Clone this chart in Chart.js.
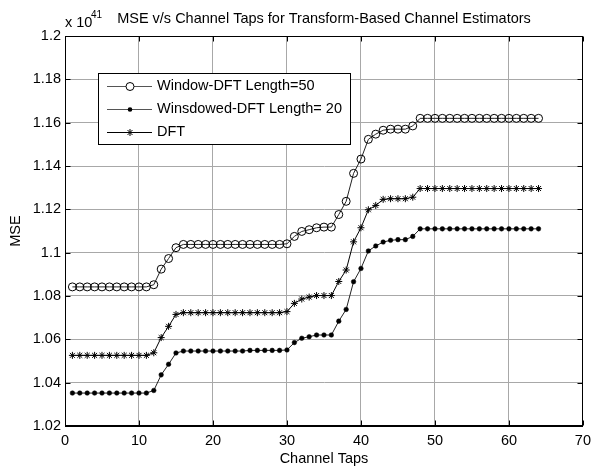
<!DOCTYPE html>
<html><head><meta charset="utf-8">
<script src="https://cdn.jsdelivr.net/npm/chart.js@4.4.1/dist/chart.umd.min.js"></script>
<style>html,body{margin:0;padding:0;background:#fff}canvas{display:block}</style>
</head><body>
<canvas id="c" width="597" height="468"></canvas>
<script>
const channelTaps = [1,2,3,4,5,6,7,8,9,10,11,12,13,14,15,16,17,18,19,20,21,22,23,24,25,26,27,28,29,30,31,32,33,34,35,36,37,38,39,40,41,42,43,44,45,46,47,48,49,50,51,52,53,54,55,56,57,58,59,60,61,62,63,64];

const windowDFT50 = [
  1.0842,1.0842,1.0842,1.0842,1.0842,1.0842,1.0842,1.0842,1.0842,1.0842,1.0842,
  1.0852,1.0924,1.0973,1.1023,
  1.1038,1.1038,1.1038,1.1038,1.1038,1.1038,1.1038,1.1038,1.1038,1.1038,1.1038,1.1038,1.1038,1.1038,
  1.1041,
  1.1075,1.1098,1.1106,1.1115,1.1118,1.1118,
  1.1176,1.1237,1.1366,1.1432,1.1523,
  1.1547,1.1565,1.1570,1.1570,1.1570,1.1585,
  1.1620,1.1620,1.1620,1.1620,1.1620,1.1620,1.1620,1.1620,1.1620,1.1620,1.1620,1.1620,1.1620,1.1620,1.1620,1.1620,1.1620
];

const windowedDFT20 = [
  1.0352,1.0352,1.0352,1.0352,1.0352,1.0352,1.0352,1.0352,1.0352,1.0352,1.0352,
  1.0364,1.0436,1.0485,1.0537,
  1.0546,1.0546,1.0546,1.0546,1.0546,1.0546,1.0546,1.0546,1.0546,
  1.0549,1.0549,1.0549,1.0549,1.0549,
  1.0551,
  1.0585,1.0605,1.0612,1.0620,1.0620,1.0620,
  1.0684,1.0738,1.0866,1.0927,1.1008,
  1.1031,1.1049,1.1057,1.1060,1.1060,1.1075,
  1.1110,1.1110,1.1110,1.1110,1.1110,1.1110,1.1110,1.1110,1.1110,1.1110,1.1110,1.1110,1.1110,1.1110,1.1110,1.1110,1.1110
];

const dftMSE = [
  1.0526,1.0526,1.0526,1.0526,1.0526,1.0526,1.0526,1.0526,1.0526,1.0526,1.0526,
  1.0538,1.0608,1.0660,1.0715,
  1.0723,1.0723,1.0723,1.0723,1.0723,1.0723,1.0723,1.0723,1.0723,1.0723,1.0723,1.0723,1.0723,1.0723,
  1.0728,
  1.0766,1.0786,1.0795,1.0802,1.0802,1.0802,
  1.0867,1.0920,1.1050,1.1115,1.1198,
  1.1218,1.1246,1.1249,1.1249,1.1249,1.1256,
  1.1296,1.1296,1.1296,1.1296,1.1296,1.1296,1.1296,1.1296,1.1296,1.1296,1.1296,1.1296,1.1296,1.1296,1.1296,1.1296,1.1296
];

const seriesLabels = ['Window-DFT Length=50', 'Winsdowed-DFT Length= 20', 'DFT'];
const xTickValues = [0,10,20,30,40,50,60,70];
const xTickLabels = ['0','10','20','30','40','50','60','70'];
const yTickValues = [1.02,1.04,1.06,1.08,1.1,1.12,1.14,1.16,1.18,1.2];
const yTickLabels = ['1.02','1.04','1.06','1.08','1.1','1.12','1.14','1.16','1.18','1.2'];
const titleText = 'MSE v/s Channel Taps for Transform-Based Channel Estimators';
const xAxisTitle = 'Channel Taps';
const yAxisTitle = 'MSE';

const FONT = "'Liberation Sans', Arial, Helvetica, sans-serif";
const FS = 14.5;

function pts(ys){ return channelTaps.map((x,i)=>({x:x, y:ys[i]})); }

function drawMarker(ctx, style, x, y){
  ctx.save();
  ctx.strokeStyle = '#000'; ctx.fillStyle = '#000'; ctx.lineWidth = 1;
  if (style === 'open') {
    ctx.beginPath(); ctx.arc(x, y, 4, 0, Math.PI*2); ctx.fillStyle='#fff'; ctx.fill(); ctx.stroke();
  } else if (style === 'dot') {
    ctx.beginPath(); ctx.arc(x, y, 2.3, 0, Math.PI*2); ctx.fill();
  } else {
    const r = 3.5, d = r*Math.SQRT1_2;
    ctx.beginPath();
    ctx.moveTo(x-r,y); ctx.lineTo(x+r,y);
    ctx.moveTo(x,y-r); ctx.lineTo(x,y+r);
    ctx.moveTo(x-d,y-d); ctx.lineTo(x+d,y+d);
    ctx.moveTo(x-d,y+d); ctx.lineTo(x+d,y-d);
    ctx.stroke();
  }
  ctx.restore();
}

const framePlugin = {
  id: 'frame',
  afterDatasetsDraw(chart){
    const ctx = chart.ctx, a = chart.chartArea, xs = chart.scales.x, ys = chart.scales.y;
    const L = Math.round(a.left)+0.5, R = Math.round(a.right)-0.5, T = Math.round(a.top)+0.5, B = Math.round(a.bottom)-0.5;
    ctx.save();
    ctx.strokeStyle = '#000'; ctx.lineWidth = 1;
    ctx.beginPath();
    xTickValues.forEach(v => {
      const px = Math.round(xs.getPixelForValue(v)) + 0.5;
      ctx.moveTo(px, B); ctx.lineTo(px, B-5);
      ctx.moveTo(px, T); ctx.lineTo(px, T+5);
    });
    yTickValues.forEach(v => {
      const py = Math.round(ys.getPixelForValue(v)) + 0.5;
      ctx.moveTo(L, py); ctx.lineTo(L+5, py);
      ctx.moveTo(R, py); ctx.lineTo(R-5, py);
    });
    ctx.stroke();
    ctx.strokeRect(L, T, R-L, B-T);

    // legend
    const bx = 98.5, by = 73.5, bw = 252, bh = 71;
    ctx.fillStyle = '#fff'; ctx.fillRect(bx, by, bw, bh);
    ctx.strokeStyle = '#000'; ctx.strokeRect(bx, by, bw, bh);
    const rowsY = [86, 109, 132];
    const styles = ['open','dot','star'];
    const lineCols = ['#555','#555','#000'];
    ctx.font = FS + 'px ' + FONT;
    ctx.textBaseline = 'middle'; ctx.textAlign = 'left';
    seriesLabels.forEach((lab, i) => {
      const y = rowsY[i] + 0.5;
      ctx.strokeStyle = lineCols[i]; ctx.lineWidth = 1;
      ctx.beginPath(); ctx.moveTo(107, y); ctx.lineTo(152, y); ctx.stroke();
      drawMarker(ctx, styles[i], 130, y);
      ctx.fillStyle = '#000';
      ctx.fillText(lab, 157, rowsY[i]);
    });
    ctx.restore();
  },
  afterDraw(chart){
    const ctx = chart.ctx, a = chart.chartArea;
    ctx.save();
    ctx.fillStyle = '#000';
    ctx.textBaseline = 'middle';
    ctx.font = FS + 'px ' + FONT;
    ctx.textAlign = 'center';
    ctx.fillText(titleText, (a.left + a.right)/2, 19);
    ctx.fillText(xAxisTitle, (a.left + a.right)/2, 459);
    ctx.textAlign = 'left';
    ctx.fillText('x 10', 65, 23);
    ctx.font = '10px ' + FONT;
    ctx.fillText('41', 91, 15);
    ctx.font = FS + 'px ' + FONT;
    ctx.translate(16, (a.top + a.bottom)/2);
    ctx.rotate(-Math.PI/2);
    ctx.textAlign = 'center';
    ctx.fillText(yAxisTitle, 0, 0);
    ctx.restore();
  }
};

new Chart(document.getElementById('c'), {
  type: 'line',
  data: {
    datasets: [
      { label: seriesLabels[0], data: pts(windowDFT50), borderColor: '#222', borderWidth: 1,
        pointStyle: 'circle', pointRadius: 4, pointBackgroundColor: 'rgba(255,255,255,0)',
        pointBorderColor: '#000', pointBorderWidth: 1, tension: 0, fill: false },
      { label: seriesLabels[1], data: pts(windowedDFT20), borderColor: '#222', borderWidth: 1,
        pointStyle: 'circle', pointRadius: 2.3, pointBackgroundColor: '#000',
        pointBorderColor: '#000', pointBorderWidth: 0.5, tension: 0, fill: false },
      { label: seriesLabels[2], data: pts(dftMSE), borderColor: '#000', borderWidth: 1,
        pointStyle: 'star', pointRadius: 3.5, pointBackgroundColor: '#000',
        pointBorderColor: '#000', pointBorderWidth: 1, tension: 0, fill: false }
    ]
  },
  options: {
    responsive: false,
    animation: false,
    events: [],
    layout: { padding: { top: 36, right: 9, left: 0, bottom: 0 } },
    plugins: { legend: { display: false }, tooltip: { enabled: false }, title: { display: false } },
    scales: {
      x: {
        type: 'linear', min: 0, max: 70,
        afterBuildTicks: s => { s.ticks = xTickValues.map(v => ({ value: v })); },
        afterFit: s => { s.height = 42; },
        ticks: { color: '#000', font: { family: FONT, size: FS }, padding: 6, maxRotation: 0, autoSkip: false,
                 callback: (v, i) => xTickLabels[i] },
        grid: { color: '#a8a8a8', lineWidth: 1, drawTicks: false },
        border: { display: true, color: '#000', width: 1 }
      },
      y: {
        type: 'linear', min: 1.02, max: 1.2,
        afterBuildTicks: s => { s.ticks = yTickValues.map(v => ({ value: v })); },
        afterFit: s => { s.width = 65; },
        ticks: { color: '#000', font: { family: FONT, size: FS }, padding: 4, autoSkip: false,
                 callback: (v, i) => yTickLabels[i] },
        grid: { color: '#a8a8a8', lineWidth: 1, drawTicks: false },
        border: { display: true, color: '#000', width: 1 }
      }
    }
  },
  plugins: [framePlugin]
});
</script>
</body></html>
